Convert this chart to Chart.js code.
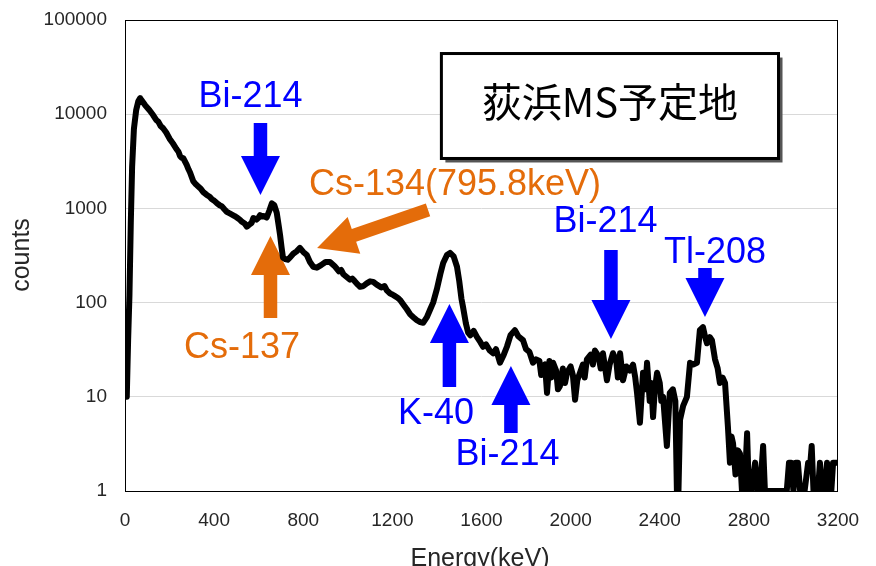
<!DOCTYPE html>
<html>
<head>
<meta charset="utf-8">
<script src="https://cdn.jsdelivr.net/npm/chart.js@4.4.0/dist/chart.umd.min.js"></script>
<style>
body{margin:0;background:#fff;}
</style>
</head>
<body>
<canvas id="chart-area" width="876" height="566"></canvas>
<script>
// spectrum (keV / counts)
var energies = [
  8, 14, 20, 26, 32, 40, 50, 60, 68, 90,
  110, 126, 140, 150, 160, 171, 185, 200, 215, 230,
  240, 247, 255, 262, 277, 285, 292, 306, 318, 330,
  340, 350, 367, 380, 390, 400, 412, 425, 435, 446,
  457, 468, 480, 492, 502, 515, 525, 537, 547, 560,
  568, 576, 590, 600, 606, 615, 622, 636, 648, 659,
  670, 681, 690, 696, 703, 709, 720, 730, 740, 755,
  770, 785, 800, 816, 830, 845, 861, 880, 900, 920,
  940, 960, 970, 980, 995, 1010, 1020, 1030, 1045, 1055,
  1070, 1085, 1100, 1114, 1130, 1150, 1165, 1175, 1190, 1200,
  1210, 1225, 1234, 1250, 1265, 1280, 1294, 1310, 1325, 1338,
  1355, 1370, 1383, 1400, 1415, 1428, 1445, 1459, 1475, 1490,
  1500, 1510, 1517, 1530, 1540, 1550, 1565, 1580, 1595, 1607,
  1620, 1637, 1652, 1665, 1683, 1700, 1714, 1730, 1750, 1765,
  1786, 1800, 1815, 1831, 1845, 1860, 1868, 1876, 1885, 1894,
  1905, 1913, 1921, 1935, 1943, 1952, 1965, 1975, 1984, 2000,
  2010, 2020, 2030, 2042, 2055, 2063, 2073, 2090, 2100, 2109,
  2125, 2135, 2145, 2163, 2175, 2190, 2205, 2212, 2222, 2235,
  2250, 2266, 2280, 2290, 2298, 2311, 2325, 2335, 2343, 2355,
  2362, 2370, 2378, 2388, 2400, 2407, 2415, 2432, 2445, 2459,
  2470, 2477, 2484, 2491, 2505, 2522, 2536, 2550, 2567, 2580,
  2594, 2605, 2612, 2625, 2634, 2648, 2660, 2670, 2682, 2693,
  2706, 2715, 2722, 2729, 2740, 2751, 2760, 2769, 2780, 2792,
  2800, 2812, 2828, 2840, 2850, 2864, 2872, 2900, 2940, 2970,
  2980, 2990, 3000, 3010, 3020, 3030, 3050, 3066, 3076, 3082,
  3090, 3110, 3119, 3128, 3140, 3151, 3160, 3170, 3178, 3190, 3200
];
var counts = [
  10, 40, 120, 700, 2800, 7000, 11000, 13800, 14800, 12500,
  11000, 9800, 8700, 8300, 7500, 7100, 6400, 5500, 4900, 4300,
  4000, 3600, 3450, 3400, 2900, 2600, 2400, 1950, 1800, 1700,
  1620, 1500, 1390, 1330, 1250, 1210, 1140, 1080, 1050, 980,
  920, 890, 860, 830, 800, 760, 720, 690, 640, 680,
  700, 790, 760, 800, 850, 820, 830, 800, 950, 1130,
  1080, 900, 650, 520, 380, 300, 290, 285, 300, 330,
  350, 380, 345, 320, 270, 240, 235, 250, 270, 270,
  245, 215, 222, 200, 187, 175, 180, 170, 155, 147,
  150, 160, 168, 166, 155, 145, 150, 135, 125, 122,
  118, 112, 107, 95, 85, 75, 70, 65, 62, 61,
  70, 85, 100, 140, 200, 263, 320, 337, 310, 240,
  170, 110, 90, 60, 48, 45, 50, 43, 38, 34,
  36, 31, 29, 32, 23, 28, 34, 45, 51, 44,
  40, 32, 30, 23, 25, 24, 17, 21, 22, 11,
  24, 16, 23, 19, 12, 13, 20, 14, 18, 21,
  17, 9.3, 15, 18, 22, 16, 25, 28, 22, 31,
  27, 20, 29, 15, 22, 29, 24, 16, 29, 15,
  21, 19, 22, 16, 11, 5.3, 18, 12, 23, 9,
  14, 6.1, 12, 18, 14, 9, 10, 3, 11, 12,
  9, 1, 1, 5.7, 8, 10, 23, 22, 23, 51,
  55, 42, 37, 43, 40, 25, 20, 14, 16, 14,
  4.8, 2, 3.8, 3.2, 1.5, 2.7, 2.5, 1, 1, 4.1,
  1, 1, 2, 1, 1, 3, 1, 1, 1, 1,
  2, 2, 1, 2, 2, 1, 1, 2, 2, 3,
  1, 1, 2, 1, 1, 2, 1, 1, 2, 2, 2
];
var xTicks = [0, 400, 800, 1200, 1600, 2000, 2400, 2800, 3200];
var yTicks = [1, 10, 100, 1000, 10000, 100000];

var BLUE = '#0000ff';
var ORANGE = '#e46c0a';

// arrows: tail -> tip, in keV / counts
var arrows = [
  {color: BLUE,   from: [608, 8070],  to: [608, 1387]},
  {color: ORANGE, from: [653, 68.7],  to: [653, 509]},
  {color: ORANGE, from: [1360, 962],  to: [862, 380]},
  {color: BLUE,   from: [1456, 12.7], to: [1456, 96.7]},
  {color: BLUE,   from: [1732, 4.13], to: [1732, 21.2]},
  {color: BLUE,   from: [2181, 362],  to: [2181, 41.1]},
  {color: BLUE,   from: [2603, 233],  to: [2603, 70.3]}
];
// nuclide labels (centre x, baseline y)
var labels = [
  {text: 'Bi-214', color: BLUE,   at: [563, 11920]},
  {text: 'Cs-137', color: ORANGE, at: [525, 25.8]},
  {text: 'Cs-134(795.8keV)', color: ORANGE, at: [1481, 1387]},
  {text: 'K-40',   color: BLUE,   at: [1396, 5.14]},
  {text: 'Bi-214', color: BLUE,   at: [1717, 1.89]},
  {text: 'Bi-214', color: BLUE,   at: [2157, 561]},
  {text: 'Tl-208', color: BLUE,   at: [2648, 263]}
];
var site = {text: '荻浜MS予定地', x1: 1420, x2: 2933, yTop: 44060, yBottom: 3388, yText: 13490};

function drawArrow(ctx, x1, y1, x2, y2, color){
  var sw = 13.5, hw = 39, hl = 39;
  var dx = x2 - x1, dy = y2 - y1;
  var len = Math.sqrt(dx*dx + dy*dy);
  var ux = dx/len, uy = dy/len, nx = -uy, ny = ux;
  var bx = x2 - ux*hl, by = y2 - uy*hl;
  ctx.beginPath();
  ctx.moveTo(x1 + nx*sw/2, y1 + ny*sw/2);
  ctx.lineTo(bx + nx*sw/2, by + ny*sw/2);
  ctx.lineTo(bx + nx*hw/2, by + ny*hw/2);
  ctx.lineTo(x2, y2);
  ctx.lineTo(bx - nx*hw/2, by - ny*hw/2);
  ctx.lineTo(bx - nx*sw/2, by - ny*sw/2);
  ctx.lineTo(x1 - nx*sw/2, y1 - ny*sw/2);
  ctx.closePath();
  ctx.fillStyle = color;
  ctx.fill();
}

var overlay = {
  id: 'overlay',
  beforeDatasetsDraw: function(chart){
    var ctx = chart.ctx, xs = chart.scales.x, ys = chart.scales.y, a = chart.chartArea;
    ctx.save();
    // plot frame
    ctx.strokeStyle = '#000';
    ctx.lineWidth = 1;
    ctx.strokeRect(a.left + 0.5, a.top + 0.5, a.right - a.left - 1, a.bottom - a.top);

    arrows.forEach(function(ar){
      drawArrow(ctx, xs.getPixelForValue(ar.from[0]), ys.getPixelForValue(ar.from[1]),
        xs.getPixelForValue(ar.to[0]), ys.getPixelForValue(ar.to[1]), ar.color);
    });

    ctx.font = '36px "Liberation Sans", Arial, sans-serif';
    ctx.textAlign = 'center';
    ctx.textBaseline = 'alphabetic';
    labels.forEach(function(l){
      ctx.fillStyle = l.color;
      ctx.fillText(l.text, xs.getPixelForValue(l.at[0]), ys.getPixelForValue(l.at[1]));
    });

    // site name box
    var bx1 = xs.getPixelForValue(site.x1), bx2 = xs.getPixelForValue(site.x2);
    var by1 = ys.getPixelForValue(site.yTop), by2 = ys.getPixelForValue(site.yBottom);
    ctx.fillStyle = '#555';
    ctx.fillRect(bx1 + 4, by1 + 4, bx2 - bx1, by2 - by1);
    ctx.fillStyle = '#fff';
    ctx.fillRect(bx1, by1, bx2 - bx1, by2 - by1);
    ctx.strokeStyle = '#000';
    ctx.lineWidth = 3;
    ctx.strokeRect(bx1, by1, bx2 - bx1, by2 - by1);
    ctx.fillStyle = '#000';
    ctx.font = '40px "Noto Sans CJK JP", sans-serif';
    ctx.textBaseline = 'middle';
    ctx.fillText(site.text, (bx1 + bx2)/2, ys.getPixelForValue(site.yText));
    ctx.restore();
  },
  afterDraw: function(chart){
    var ctx = chart.ctx;
    ctx.save();
    ctx.fillStyle = '#262626';
    ctx.font = '25px "Liberation Sans", Arial, sans-serif';
    ctx.textAlign = 'center';
    ctx.textBaseline = 'middle';
    ctx.fillText('Energy(keV)', 480, 559);
    ctx.translate(22, 255);
    ctx.rotate(-Math.PI/2);
    ctx.fillText('counts', 0, 0);
    ctx.restore();
  }
};

var points = energies.map(function(e, i){ return {x: e, y: counts[i]}; });
var tickFont = {family: '"Liberation Sans", Arial, sans-serif', size: 19};

var ctx = document.getElementById('chart-area').getContext('2d');
var chart = new Chart(ctx, {
  type: 'line',
  data: {
    datasets: [{
      data: points,
      borderColor: '#000',
      borderWidth: 6,
      borderJoinStyle: 'round',
      borderCapStyle: 'round',
      pointRadius: 0,
      fill: false
    }]
  },
  options: {
    responsive: false,
    animation: false,
    layout: {padding: {left: 0, top: 20, right: 38, bottom: 0}},
    plugins: {legend: {display: false}, tooltip: {enabled: false}},
    scales: {
      x: {
        type: 'linear', min: 0, max: 3200,
        afterBuildTicks: function(s){ s.ticks = xTicks.map(function(v){ return {value: v}; }); },
        afterFit: function(s){ s.height = 75; s.paddingLeft = 0; s.paddingRight = 0; },
        grid: {display: false, drawTicks: false},
        border: {display: false},
        ticks: {font: tickFont, color: '#262626', padding: 18, maxRotation: 0, autoSkip: false,
          callback: function(v){ return String(v); }}
      },
      y: {
        type: 'logarithmic', min: 1, max: 100000,
        afterBuildTicks: function(s){ s.ticks = yTicks.map(function(v){ return {value: v}; }); },
        afterFit: function(s){ s.width = 125; s.paddingTop = 0; s.paddingBottom = 0; },
        grid: {color: '#d9d9d9', drawTicks: false},
        border: {display: false},
        ticks: {font: tickFont, color: '#262626', padding: 18, autoSkip: false,
          callback: function(v){ return String(v); }}
      }
    }
  },
  plugins: [overlay]
});
</script>
</body>
</html>
